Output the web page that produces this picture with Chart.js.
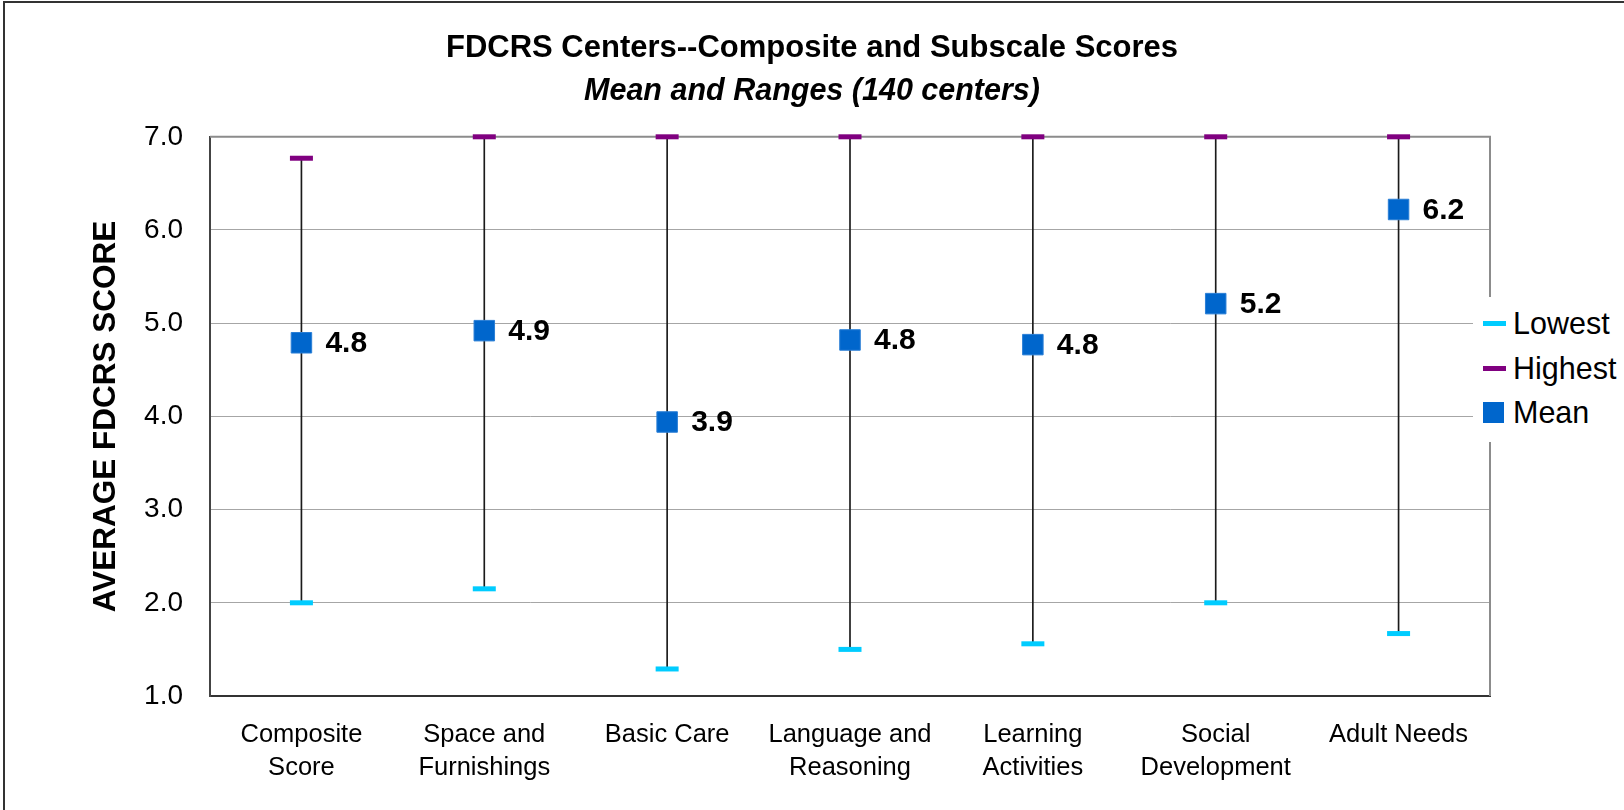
<!DOCTYPE html>
<html>
<head>
<meta charset="utf-8">
<title>FDCRS Centers</title>
<script src="https://cdn.jsdelivr.net/npm/chart.js@4.4.1/dist/chart.umd.min.js"></script>
<style>
  body { margin: 0; background: #fff; overflow: hidden; }
  #wrap { position: relative; width: 1624px; height: 810px; }
  #frame { position: absolute; left: 3px; top: 1px; width: 1700px; height: 900px;
           border-top: 2px solid #333; border-left: 2px solid #333; pointer-events: none; }
  #legend { position: absolute; left: 1473px; top: 297px; width: 151px; height: 145px;
            background: #fff; font-family: "Liberation Sans", Arial, sans-serif; font-size: 30.5px; color: #000; }
  .item { position: absolute; left: 10px; height: 36px; line-height: 36px; white-space: nowrap; }
  .sw { position: absolute; left: 0; }
  .txt { position: absolute; left: 30px; top: 0; }
</style>
</head>
<body>
<div id="wrap">
  <canvas id="grafico" width="1624" height="810"></canvas>
  <div id="frame"></div>
  <div id="legend"></div>
</div>
<script>
// datos
var categorias = [
  ["Composite", "Score"],
  ["Space and", "Furnishings"],
  "Basic Care",
  ["Language and", "Reasoning"],
  ["Learning", "Activities"],
  ["Social", "Development"],
  "Adult Needs"
];
var lowest  = [2.00, 2.15, 1.29, 1.50, 1.56, 2.00, 1.67];
var highest = [6.77, 7.00, 7.00, 7.00, 7.00, 7.00, 7.00];
var mean    = [4.79, 4.92, 3.94, 4.82, 4.77, 5.21, 6.22];
var yTicks  = [1, 2, 3, 4, 5, 6, 7];

var colorLow = "#00CCFF";
var colorHigh = "#800080";
var colorMean = "#0066CC";
var fuente = "'Liberation Sans', Arial, sans-serif";

// rango de cada categoria (linea vertical)
var rangos = [];
for (var i = 0; i < lowest.length; i++) {
  rangos.push([lowest[i], highest[i]]);
}

// etiquetas del promedio al lado del cuadrado
var etiquetasMean = {
  id: "etiquetasMean",
  afterDatasetsDraw: function(chart) {
    var ctx = chart.ctx;
    var meta = chart.getDatasetMeta(3);
    ctx.save();
    ctx.font = "bold 30px " + fuente;
    ctx.fillStyle = "#000";
    ctx.textAlign = "left";
    ctx.textBaseline = "middle";
    meta.data.forEach(function(p, i) {
      ctx.fillText(mean[i].toFixed(1), p.x + 24, p.y + 1);
    });
    ctx.restore();
  }
};

// borde de arriba y derecho del area del grafico
var bordeArea = {
  id: "bordeArea",
  beforeDatasetsDraw: function(chart) {
    var a = chart.chartArea;
    var ctx = chart.ctx;
    ctx.save();
    ctx.strokeStyle = "#8c8c8c";
    ctx.lineWidth = 2;
    ctx.beginPath();
    ctx.moveTo(a.left, a.top);
    ctx.lineTo(a.right, a.top);
    ctx.lineTo(a.right, a.bottom);
    ctx.stroke();
    ctx.restore();
  }
};

var ctx = document.getElementById("grafico").getContext("2d");
var grafico = new Chart(ctx, {
  type: "line",
  data: {
    labels: categorias,
    datasets: [
      {
        type: "bar",
        label: "Range",
        data: rangos,
        backgroundColor: "#1a1a1a",
        barThickness: 1,
        borderWidth: 0,
        order: 3
      },
      {
        label: "Lowest",
        data: lowest,
        showLine: false,
        clip: false,
        pointStyle: "line",
        pointRadius: 11.5,
        pointBorderWidth: 5,
        borderColor: colorLow,
        backgroundColor: colorLow,
        order: 2
      },
      {
        label: "Highest",
        data: highest,
        showLine: false,
        clip: false,
        pointStyle: "line",
        pointRadius: 11.5,
        pointBorderWidth: 5,
        borderColor: colorHigh,
        backgroundColor: colorHigh,
        order: 2
      },
      {
        label: "Mean",
        data: mean,
        showLine: false,
        clip: false,
        pointStyle: "rect",
        pointRadius: 14.5,
        pointBorderWidth: 1,
        borderColor: "#2a7fd6",
        backgroundColor: colorMean,
        order: 0
      }
    ]
  },
  options: {
    responsive: false,
    animation: false,
    layout: { padding: 0 },
    plugins: {
      legend: { display: false },
      tooltip: { enabled: false },
      title: {
        display: true,
        text: "FDCRS Centers--Composite and Subscale Scores",
        color: "#000",
        font: { family: fuente, size: 31, weight: "bold" },
        padding: { top: 30, bottom: 4 }
      },
      subtitle: {
        display: true,
        text: "Mean and Ranges (140 centers)",
        color: "#000",
        font: { family: fuente, size: 30.5, weight: "bold", style: "italic" },
        padding: { top: 2, bottom: 27 }
      }
    },
    scales: {
      x: {
        offset: true,
        grid: { drawOnChartArea: false, drawTicks: false },
        border: { display: true, color: "#333", width: 2 },
        ticks: {
          color: "#000",
          font: { family: fuente, size: 25.5, lineHeight: 1.3 },
          padding: 22,
          maxRotation: 0,
          autoSkip: false
        },
        afterFit: function(s) { s.height = 114; }
      },
      y: {
        min: 1,
        max: 7,
        afterBuildTicks: function(s) {
          s.ticks = yTicks.map(function(v) { return { value: v }; });
        },
        grid: {
          color: "#a6a6a6",
          lineWidth: 1,
          drawTicks: false
        },
        border: { display: true, color: "#444", width: 2 },
        ticks: {
          color: "#000",
          font: { family: fuente, size: 28 },
          padding: 27,
          callback: function(v) { return Number(v).toFixed(1); }
        },
        title: {
          display: true,
          text: "AVERAGE FDCRS SCORE",
          color: "#000",
          font: { family: fuente, size: 31.5, weight: "bold" },
          padding: { top: 87, bottom: 0 }
        },
        afterFit: function(s) { s.width = 210; }
      },
      // eje vacio a la derecha, solo para dejar lugar a la leyenda
      yDer: {
        position: "right",
        min: 1,
        max: 7,
        grid: { display: false },
        border: { display: false },
        ticks: { display: false },
        afterFit: function(s) { s.width = 134; }
      }
    }
  },
  plugins: [bordeArea, etiquetasMean]
});

// leyenda armada a mano (queda encima del borde derecho)
var leyenda = document.getElementById("legend");
var series = [
  { nombre: "Lowest", color: colorLow, forma: "line" },
  { nombre: "Highest", color: colorHigh, forma: "line" },
  { nombre: "Mean", color: colorMean, forma: "rect" }
];
for (var k = 0; k < series.length; k++) {
  var item = document.createElement("div");
  item.className = "item";
  item.style.top = (8 + k * 44.5) + "px";
  var sw = document.createElement("span");
  sw.className = "sw";
  sw.style.background = series[k].color;
  if (series[k].forma === "line") {
    sw.style.width = "23px"; sw.style.height = "5px"; sw.style.top = "16px";
  } else {
    sw.style.width = "21px"; sw.style.height = "21px"; sw.style.top = "8px";
  }
  var txt = document.createElement("span");
  txt.className = "txt";
  txt.textContent = series[k].nombre;
  item.appendChild(sw);
  item.appendChild(txt);
  leyenda.appendChild(item);
}
</script>
</body>
</html>
